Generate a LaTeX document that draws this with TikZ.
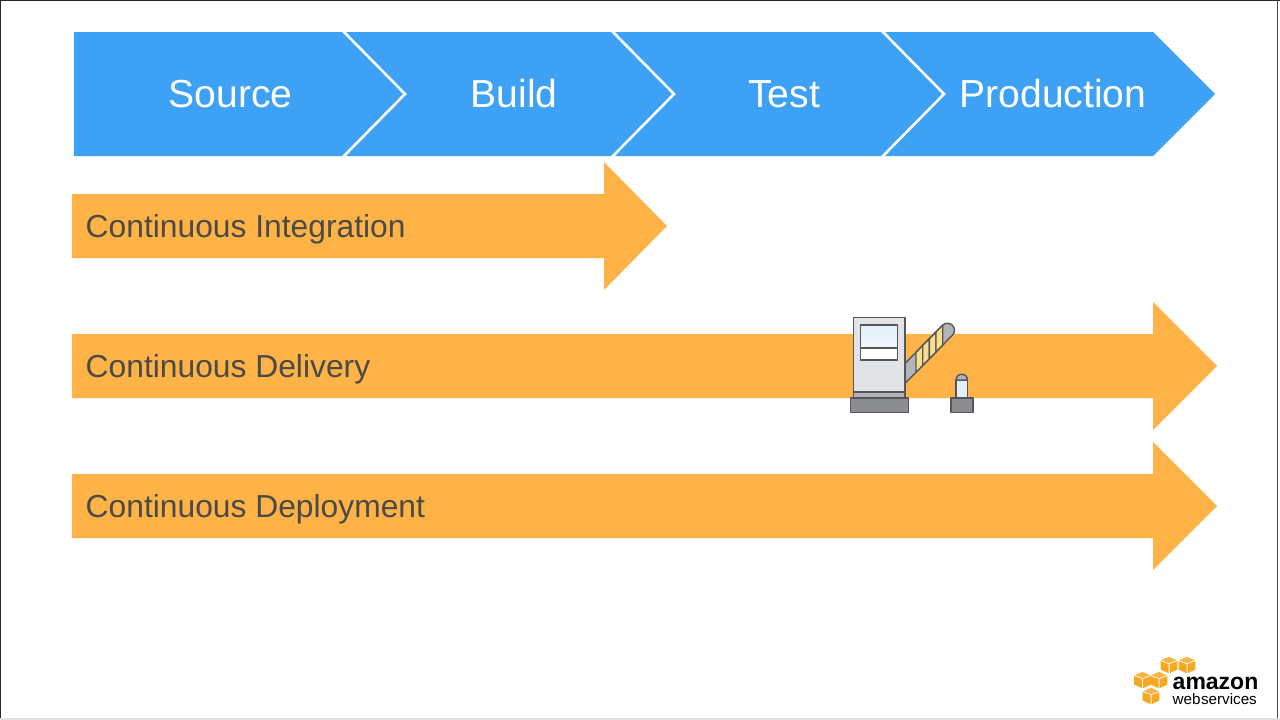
\documentclass[tikz,border=0pt]{standalone}
\usepackage{fontspec}
\setmainfont{Liberation Sans}
\usetikzlibrary{positioning}
\definecolor{stageblue}{HTML}{3DA1F5}
\definecolor{flowamber}{HTML}{FFB347}
\definecolor{flowtext}{HTML}{4A4A48}
\definecolor{gateline}{HTML}{55565A}
\definecolor{gategray}{HTML}{8C8D90}
\definecolor{gatemid}{HTML}{B2B4B8}
\definecolor{boothgray}{HTML}{E2E3E6}
\definecolor{glassblue}{HTML}{E4EFFA}
\definecolor{stripeyellow}{HTML}{FADD8C}
\definecolor{awsorange}{HTML}{F7A823}
\tikzset{
  stagelabel/.style={anchor=base,text=white,inner sep=0pt,font=\fontsize{39.1}{40}\selectfont},
  flowlabel/.style={anchor=base west,text=flowtext,inner sep=0pt,font=\fontsize{31.8}{34}\selectfont},
  gatepart/.style={draw=gateline,line width=1.4pt,line join=round},
}
\newcommand{\flowarrow}[3]{\fill[flowamber] (72,#2-32) -- (#1,#2-32) -- (#1,#2-64) -- (#3,#2) -- (#1,#2+64) -- (#1,#2+32) -- (72,#2+32) -- cycle;}
\newcommand{\awscube}[2]{%
\fill[awsorange] (#1-8.3,#2-3.8) -- (#1-0.5,#2-1) -- (#1-0.5,#2+8.2) -- (#1-8.3,#2+4.6) -- cycle;
\fill[awsorange] (#1+8.3,#2-3.8) -- (#1+0.5,#2-1) -- (#1+0.5,#2+8.2) -- (#1+8.3,#2+4.6) -- cycle;
\fill[awsorange!85!white] (#1-7.8,#2-4.7) -- (#1,#2-8.2) -- (#1+7.8,#2-4.7) -- (#1,#2-1.8) -- cycle;}
\begin{document}
\begin{tikzpicture}[x=1pt,y=-1pt]
\useasboundingbox (0,0) rectangle (1280,720);
% frame of the screenshot
\fill[white] (0,0) rectangle (1280,720);
\draw[black!85,line width=1.5pt] (0.7,720) -- (0.7,0.7) -- (1280,0.7);
\draw[black!70,line width=1pt] (1277.5,0) -- (1277.5,718);
\draw[black!12,line width=2pt] (0,718.5) -- (1280,718.5);
% stages
\fill[stageblue] (74,32) -- (1153,32) -- (1215,94) -- (1153,156) -- (74,156) -- cycle;
\foreach \tipx in {343,612,882}
  \draw[white,line width=2.6pt] (\tipx,31) -- (\tipx+62,94) -- (\tipx,157);
\node[stagelabel] (source) at (230.5,107) {Source};
\node[stagelabel] (build) at (514,107) {Build};
\node[stagelabel] (test) at (784,107) {Test};
\node[stagelabel] (production) at (1053,107) {Production};
% flows
\flowarrow{604}{226}{667}
\flowarrow{1153}{366}{1217}
\flowarrow{1153}{506}{1217}
\node[flowlabel] (integration) at (85.5,237) {Continuous Integration};
\node[flowlabel] (delivery) at (85.5,377) {Continuous Delivery};
\node[flowlabel] (deployment) at (85.5,517) {Continuous Deployment};
% gate
\draw[gatepart,fill=gatemid] (905,363.5) -- (942.5,325.3) arc (-135:45:7) -- (905,383.5) -- cycle;
\foreach \stripex/\stripey in {916/352.3,922.7/345.5,929.3/338.8,936/332}
  \draw[gatepart,fill=stripeyellow] (\stripex,\stripey) -- (\stripex+6.7,\stripey-6.8) -- (\stripex+6.7,\stripey+13.2) -- (\stripex,\stripey+20) -- cycle;
\draw[gatepart,fill=boothgray] (853.5,317.5) rectangle (905,392);
\draw[gatepart,fill=gatemid] (853.5,392) rectangle (905,398);
\draw[gatepart,fill=gategray] (850.5,398) rectangle (908.5,412.5);
\draw[gatepart,top color=glassblue,bottom color=glassblue!60!white] (860.5,325) rectangle (897.5,348);
\draw[gatepart,fill=white] (860.5,348) rectangle (897.5,360);
\draw[gatepart,fill=glassblue] (956,380) rectangle (967.5,398);
\draw[gatepart,fill=gatemid] (956,380) arc (-180:0:5.75) -- cycle;
\draw[gatepart,fill=gategray] (951,398) rectangle (973,412.5);
% logo
\awscube{1169}{665}
\awscube{1187}{665}
\awscube{1142.5}{680}
\awscube{1159}{680}
\awscube{1151}{696}
\node[anchor=base west,inner sep=0pt,font=\bfseries\fontsize{23}{24}\selectfont] (amazon) at (1172.5,689) {amazon};
\node[anchor=base west,inner sep=0pt,font=\fontsize{15.2}{16}\selectfont] (webservices) at (1172.5,704) {web\hspace{.5pt}services};
\end{tikzpicture}
\end{document}
